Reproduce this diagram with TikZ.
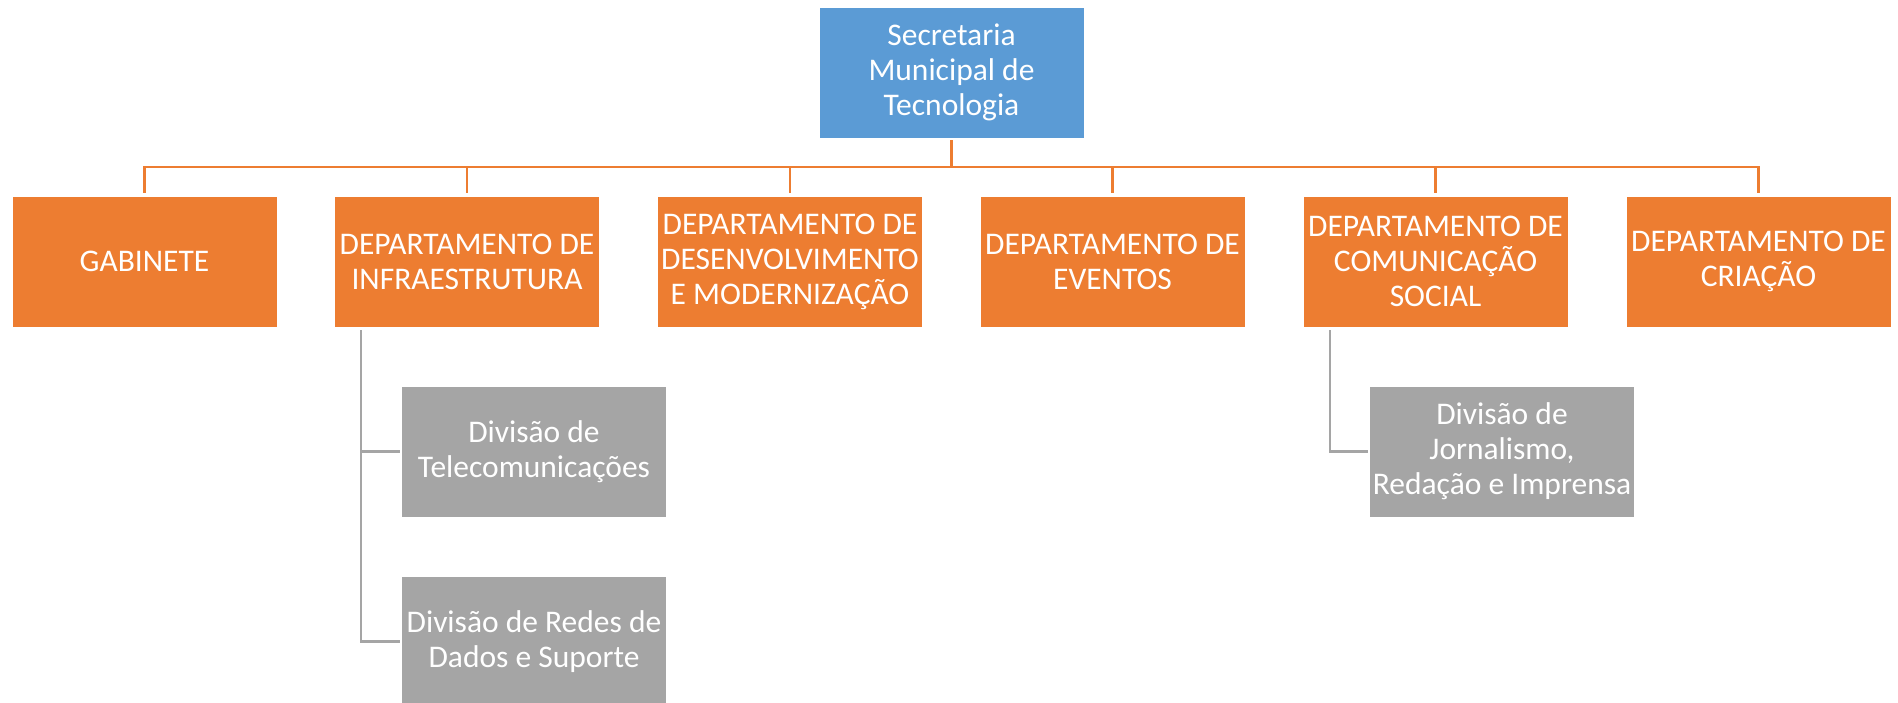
\documentclass[tikz,border=0pt]{standalone}
\usepackage{fontspec}
\setmainfont{Carlito}
\definecolor{cblue}{HTML}{5B9BD5}
\definecolor{corange}{HTML}{ED7D31}
\definecolor{cgray}{HTML}{A5A5A5}
\begin{document}
\begin{tikzpicture}[x=1pt,y=1pt,
  box/.style={rectangle, minimum width=265pt, minimum height=131pt, inner sep=0pt,
    align=center, text=white, font=\fontsize{31.5}{35}\selectfont, draw=white, line width=0.8pt},
  topbox/.style={box, fill=cblue},
  deptbox/.style={box, fill=corange},
  divbox/.style={box, fill=cgray},
  oline/.style={draw=corange, line width=2.8pt},
  gline/.style={draw=cgray, line width=2.8pt}]
\useasboundingbox (0,0) rectangle (1898,-702);
\node[topbox] (top) at (951.5,-72.5) {Secretaria\\Municipal de\\Tecnologia};
\node[deptbox] (gab) at (144.5,-261.5) {GABINETE};
\node[deptbox] (inf) at (467,-261.5) {DEPARTAMENTO DE\\INFRAESTRUTURA};
\node[deptbox] (des) at (790,-261.5) {DEPARTAMENTO DE\\DESENVOLVIMENTO\\E MODERNIZAÇÃO};
\node[deptbox] (eve) at (1112.5,-261.5) {DEPARTAMENTO DE\\EVENTOS};
\node[deptbox] (com) at (1435.5,-261.5) {DEPARTAMENTO DE\\COMUNICAÇÃO\\SOCIAL};
\node[deptbox] (cri) at (1758.5,-261.5) {DEPARTAMENTO DE\\CRIAÇÃO};
\node[divbox] (tel) at (534,-451.5) {Divisão de\\Telecomunicações};
\node[divbox] (red) at (534,-641.5) {Divisão de Redes de\\Dados e Suporte};
\node[divbox] (jor) at (1502,-451.5) {Divisão de\\Jornalismo,\\Redação e Imprensa};
% orange connectors
\draw[oline] ([yshift=-2pt]top.south) -- (top.south |- 0,-167);
\draw[oline] ([yshift=3pt]gab.north) -- (gab.north |- 0,-167) -| ([yshift=3pt]cri.north);
\foreach \n in {inf,des,eve,com} \draw[oline] ([yshift=3pt]\n.north) -- (\n.north |- 0,-167);
% gray connectors
\draw[gline] ([xshift=-106pt,yshift=-3pt]inf.south) |- ([xshift=-1pt]tel.west);
\draw[gline] ([xshift=-106pt,yshift=-3pt]inf.south) |- ([xshift=-1pt]red.west);
\draw[gline] ([xshift=-105.5pt,yshift=-3pt]com.south) |- ([xshift=-1pt]jor.west);
\end{tikzpicture}
\end{document}
